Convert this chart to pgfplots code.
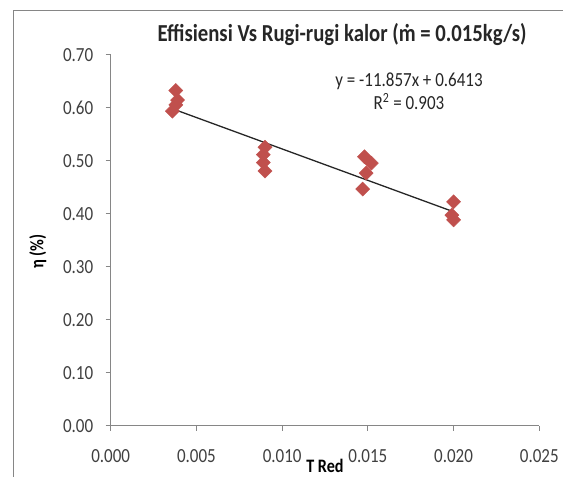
\documentclass[border=0pt]{standalone}
\usepackage{fontspec}
\setmainfont[FakeStretch=0.85]{Carlito}
\usepackage{pgfplots}
\pgfplotsset{compat=1.18}

\definecolor{exred}{HTML}{C0504D}
\definecolor{axgray}{HTML}{868686}
\definecolor{txt}{HTML}{404040}

\begin{document}
\begin{tikzpicture}[x=1pt,y=1pt]
\begin{axis}[
    at={(110.7pt,51pt)}, anchor=south west,
    scale only axis, width=428.6pt, height=371pt,
    xmin=0, xmax=0.025, ymin=0, ymax=0.7,
    axis x line*=bottom, axis y line*=left,
    axis line style={axgray, line width=1pt},
    tick style={axgray, line width=1pt},
    tick align=outside, major tick length=5pt,
    xtick={0,0.005,0.01,0.015,0.02,0.025},
    ytick={0,0.1,0.2,0.3,0.4,0.5,0.6,0.7},
    scaled x ticks=false, scaled y ticks=false,
    xticklabel style={yshift=-15pt, /pgf/number format/.cd, fixed, fixed zerofill, precision=3},
    yticklabel style={xshift=-9pt, /pgf/number format/.cd, fixed, fixed zerofill, precision=2},
    /pgf/number format/assume math mode=true,
    tick label style={font=\fontsize{20}{20}\selectfont, text=txt},
    xlabel={\textbf{T Red}}, ylabel={\textbf{η (\%)}},
    label style={font=\fontsize{19}{19}\selectfont, text=black},
    xlabel style={at={(axis description cs:0.5,-0.108)}, anchor=center},
    ylabel style={at={(axis description cs:-0.170,0.47)}, anchor=center},
    clip=false,
]
\addplot[only marks, mark=square*, mark size=5pt,
    mark options={rotate=45, fill=exred, draw=exred}]
coordinates {
    (0.0038,0.633) (0.0039,0.615) (0.0038,0.606) (0.0036,0.594)
    (0.0090,0.526) (0.0089,0.512) (0.0089,0.497) (0.0090,0.481)
    (0.0148,0.508) (0.0152,0.496) (0.0149,0.477) (0.0147,0.447)
    (0.0200,0.423) (0.0199,0.398) (0.0200,0.389)
};
% linear trendline, drawn between smallest and largest x
\addplot[black!85, line width=1.3pt, no marks]
coordinates {(0.0036,0.5986) (0.0200,0.4042)};
\end{axis}
% chart area border (cropped at right and bottom)
\draw[axgray, line width=1.3pt] (13.3,-10) -- (13.3,466.5) -- (600,466.5);
\node[font=\fontsize{24.4}{24.4}\selectfont\bfseries, text=black!85, anchor=base, inner sep=0pt] at (342,435) {Effisiensi Vs Rugi-rugi kalor (\accent"02D9 m = 0.015kg/s)};
\node[font=\fontsize{20}{20}\selectfont, text=black!85, anchor=base, inner sep=0pt] at (409,390) {y = -11.857x + 0.6413};
\node[font=\fontsize{20}{20}\selectfont, text=black!85, anchor=base, inner sep=0pt] at (409,367) {R\textsuperscript{2} = 0.903};
\pgfresetboundingbox
\useasboundingbox (0,0) rectangle (563,477);
\end{tikzpicture}
\end{document}
